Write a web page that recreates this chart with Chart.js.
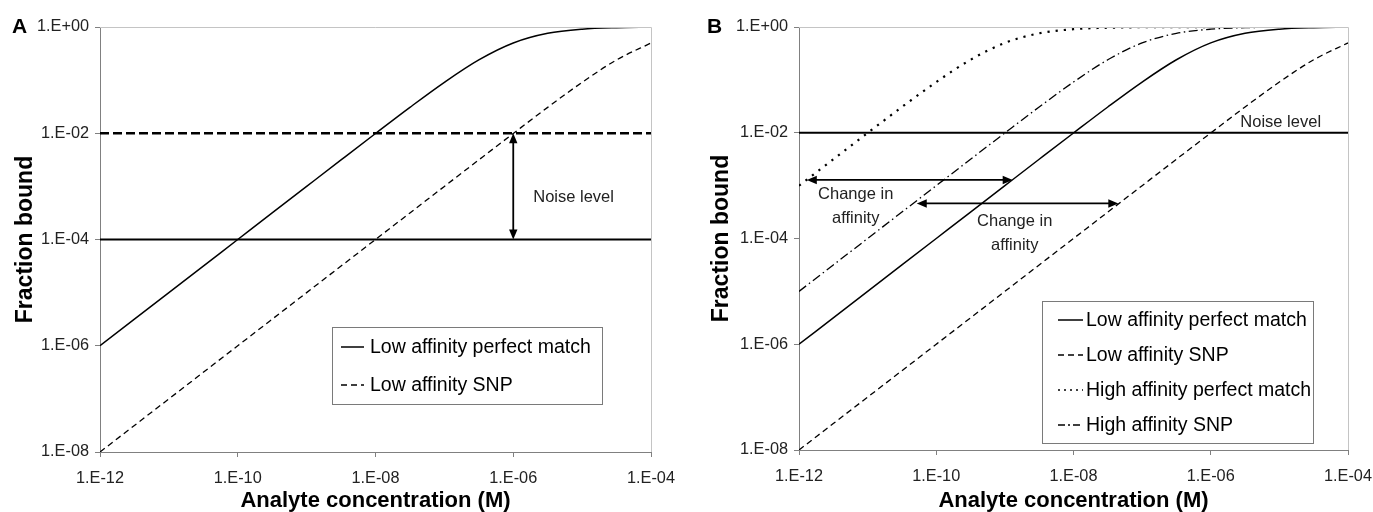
<!DOCTYPE html>
<html><head><meta charset="utf-8">
<script src="https://cdn.jsdelivr.net/npm/chart.js@4.4.1/dist/chart.umd.min.js"></script>
<style>
html,body{margin:0;padding:0;background:#fff;width:1373px;height:512px;overflow:hidden}
#wa{position:absolute;left:0;top:0;width:680px;height:512px}
#wb{position:absolute;left:690px;top:0;width:683px;height:512px}
</style></head><body>
<div id="wa"><canvas id="ca" width="680" height="512"></canvas></div>
<div id="wb"><canvas id="cb" width="683" height="512"></canvas></div>
<script>
// ---- data ----
const concentration = [1e-12, 3.16e-12, 1e-11, 3.16e-11, 1e-10, 3.16e-10, 1e-9, 3.16e-9, 1e-8, 3.16e-8, 1e-7, 3.16e-7, 1e-6, 3.16e-6, 1e-5, 3.16e-5, 1e-4];
const lowAffinityPerfectMatch = [1.0e-6, 3.16e-6, 1.0e-5, 3.16e-5, 1.0e-4, 3.16e-4, 9.99e-4, 3.15e-3, 9.9e-3, 0.0307, 0.0909, 0.240, 0.500, 0.760, 0.909, 0.969, 0.990];
const lowAffinitySNP = [1.0e-8, 3.16e-8, 1.0e-7, 3.16e-7, 1.0e-6, 3.16e-6, 1.0e-5, 3.16e-5, 1.0e-4, 3.16e-4, 9.99e-4, 3.15e-3, 9.9e-3, 0.0307, 0.0909, 0.240, 0.500];
const highAffinityPerfectMatch = [9.99e-4, 3.15e-3, 9.9e-3, 0.0307, 0.0909, 0.240, 0.500, 0.760, 0.909, 0.969, 0.990, 0.9968, 0.999, 0.9997, 0.9999, 0.99997, 0.99999];
const highAffinitySNP = [1.0e-5, 3.16e-5, 1.0e-4, 3.16e-4, 9.99e-4, 3.15e-3, 9.9e-3, 0.0307, 0.0909, 0.240, 0.500, 0.760, 0.909, 0.969, 0.990, 0.9968, 0.999];
const xRange = [1e-12, 1e-4];
const yRange = [1e-8, 1];
const xTickValues = [1e-12, 1e-10, 1e-8, 1e-6, 1e-4];
const xTickLabels = ['1.E-12', '1.E-10', '1.E-08', '1.E-06', '1.E-04'];
const yTickValues = [1e-8, 1e-6, 1e-4, 1e-2, 1];
const yTickLabels = ['1.E-08', '1.E-06', '1.E-04', '1.E-02', '1.E+00'];
const noiseLevelsA = [1e-2, 1e-4];
const noiseLevelB = 1e-2;
const arrowsA = [[1e-6, 1e-2, 1e-6, 1e-4]];
const arrowsB = [[1.3e-12, 1.28e-3, 1.3e-9, 1.28e-3], [5.2e-11, 4.6e-4, 4.5e-8, 4.6e-4]];
const notesA = [{lines: ['Noise level'], x: 1.95e-6, y: 6.3e-4, align: 'left'}];
const notesB = [
  {lines: ['Noise level'], x: 2.7e-6, y: 0.0157, align: 'left'},
  {lines: ['Change in', 'affinity'], x: 6.7e-12, y: 6.8e-4, align: 'center'},
  {lines: ['Change in', 'affinity'], x: 1.39e-9, y: 2.1e-4, align: 'center'}
];
const xTitle = 'Analyte concentration (M)';
const yTitle = 'Fraction bound';

// ---- helpers ----
const FONT = "'Liberation Sans', Arial, Helvetica, sans-serif";
Chart.defaults.font.family = FONT;
const pts = ys => concentration.map((x, i) => ({x: x, y: ys[i]}));
const hline = v => [{x: xRange[0], y: v}, {x: xRange[1], y: v}];

const STY = {
  lpm: {borderDash: [], borderWidth: 1.5},
  lsnp: {borderDash: [6, 4], borderWidth: 1.3},
  hpm: {borderDash: [2.2, 6], borderWidth: 2.2},
  hsnp: {borderDash: [9, 3.5, 1.5, 3.5], borderWidth: 1.3}
};
function curve(label, ys, st) {
  return Object.assign({label: label, data: pts(ys), showLine: true, pointRadius: 0,
    borderColor: '#000', backgroundColor: '#000', fill: false,
    cubicInterpolationMode: 'monotone'}, st);
}
function flat(v, dash, w) {
  return {label: '', data: hline(v), showLine: true, pointRadius: 0, borderColor: '#000',
    borderDash: dash, borderWidth: w, fill: false};
}

function arrowHead(ctx, x, y, ang) {
  const L = 10, W = 4.2;
  ctx.beginPath();
  ctx.moveTo(x, y);
  ctx.lineTo(x - L * Math.cos(ang) + W * Math.sin(ang), y - L * Math.sin(ang) - W * Math.cos(ang));
  ctx.lineTo(x - L * Math.cos(ang) - W * Math.sin(ang), y - L * Math.sin(ang) + W * Math.cos(ang));
  ctx.closePath();
  ctx.fill();
}

const deco = {
  id: 'deco',
  afterDatasetsDraw(chart, args, o) {
    const ctx = chart.ctx, a = chart.chartArea, xs = chart.scales.x, ys = chart.scales.y;
    ctx.save();
    // light top / right frame
    ctx.strokeStyle = '#c4c4c4'; ctx.lineWidth = 1;
    ctx.beginPath();
    ctx.moveTo(a.left, a.top + 0.5); ctx.lineTo(a.right + 0.5, a.top + 0.5); ctx.lineTo(a.right + 0.5, a.bottom);
    ctx.stroke();
    // arrows
    ctx.strokeStyle = '#000'; ctx.fillStyle = '#000'; ctx.lineWidth = 1.8;
    o.arrows.forEach(r => {
      const x1 = xs.getPixelForValue(r[0]), y1 = ys.getPixelForValue(r[1]);
      const x2 = xs.getPixelForValue(r[2]), y2 = ys.getPixelForValue(r[3]);
      const ang = Math.atan2(y2 - y1, x2 - x1);
      const sx = Math.cos(ang) * 8, sy = Math.sin(ang) * 8;
      ctx.beginPath(); ctx.moveTo(x1 + sx, y1 + sy); ctx.lineTo(x2 - sx, y2 - sy); ctx.stroke();
      arrowHead(ctx, x2, y2, ang);
      arrowHead(ctx, x1, y1, ang + Math.PI);
    });
    // notes
    ctx.font = '16.5px ' + FONT; ctx.fillStyle = '#222'; ctx.textBaseline = 'middle';
    o.notes.forEach(n => {
      const x = xs.getPixelForValue(n.x), y = ys.getPixelForValue(n.y);
      ctx.textAlign = n.align;
      n.lines.forEach((t, i) => ctx.fillText(t, x, y + i * 23.5));
    });
    // legend
    const L = o.legend;
    ctx.fillStyle = '#fff'; ctx.fillRect(L.box[0], L.box[1], L.box[2] - L.box[0], L.box[3] - L.box[1]);
    ctx.strokeStyle = '#7a7a7a'; ctx.lineWidth = 1;
    ctx.strokeRect(L.box[0] + 0.5, L.box[1] + 0.5, L.box[2] - L.box[0], L.box[3] - L.box[1]);
    ctx.font = '19.5px ' + FONT; ctx.textAlign = 'left'; ctx.textBaseline = 'middle';
    L.items.forEach((di, i) => {
      const ds = chart.data.datasets[di];
      const y = L.y0 + i * L.dy;
      ctx.strokeStyle = '#000'; ctx.lineWidth = Math.min(ds.borderWidth, 1.6);
      ctx.setLineDash(L.dashes[i]);
      ctx.beginPath(); ctx.moveTo(L.sx[0], y); ctx.lineTo(L.sx[1], y); ctx.stroke();
      ctx.setLineDash([]);
      ctx.fillStyle = '#000';
      ctx.fillText(ds.label, L.tx, y + 1);
    });
    // panel letter
    ctx.font = 'bold 21px ' + FONT; ctx.fillStyle = '#000'; ctx.textAlign = 'left'; ctx.textBaseline = 'alphabetic';
    ctx.fillText(o.letter[0], o.letter[1], o.letter[2]);
    ctx.restore();
  }
};

function makeChart(id, datasets, yW, xH, padR, decoOpts) {
  return new Chart(document.getElementById(id), {
    type: 'scatter',
    data: {datasets: datasets},
    options: {
      responsive: false, animation: false, devicePixelRatio: 1,
      layout: {padding: {top: 27, right: padR, left: 0, bottom: 0}},
      plugins: {legend: {display: false}, tooltip: {enabled: false}, deco: decoOpts},
      scales: {
        x: {
          type: 'logarithmic', min: xRange[0], max: xRange[1],
          afterBuildTicks: s => { s.ticks = xTickValues.map(v => ({value: v})); },
          afterFit: s => { s.height = xH; s.paddingLeft = 0; s.paddingRight = 0; },
          ticks: {callback: (v, i) => xTickLabels[i], color: '#222', font: {size: 16.3}, padding: 12, maxRotation: 0, autoSkip: false},
          grid: {display: true, drawOnChartArea: false, drawTicks: true, tickLength: 5, color: '#808080'},
          border: {display: true, color: '#808080', width: 1},
          title: {display: true, text: xTitle, color: '#000', font: {size: 22, weight: 'bold'}, padding: {top: 0, bottom: -2}}
        },
        y: {
          type: 'logarithmic', min: yRange[0], max: yRange[1],
          afterBuildTicks: s => { s.ticks = yTickValues.map(v => ({value: v})); },
          afterFit: s => { s.width = yW; s.paddingTop = 0; s.paddingBottom = 0; },
          ticks: {callback: (v, i) => yTickLabels[i], color: '#222', font: {size: 16.3}, padding: 6, autoSkip: false},
          grid: {display: true, drawOnChartArea: false, drawTicks: true, tickLength: 5, color: '#808080'},
          border: {display: true, color: '#808080', width: 1},
          title: {display: true, text: yTitle, color: '#000', font: {size: 23, weight: 'bold'}, padding: {top: decoOpts.ytPad, bottom: 0}}
        }
      }
    },
    plugins: [deco]
  });
}

makeChart('ca', [
  curve('Low affinity perfect match', lowAffinityPerfectMatch, STY.lpm),
  curve('Low affinity SNP', lowAffinitySNP, STY.lsnp),
  flat(noiseLevelsA[0], [9, 4], 2.6),
  flat(noiseLevelsA[1], [], 2)
], 100, 60, 29, {
  ytPad: 12,
  arrows: arrowsA, notes: notesA, letter: ['A', 12, 33],
  legend: {box: [332, 327, 602, 404], items: [0, 1], y0: 347, dy: 38, sx: [341, 364], tx: 370,
    dashes: [[], [6, 4]]}
});

makeChart('cb', [
  curve('Low affinity perfect match', lowAffinityPerfectMatch, STY.lpm),
  curve('Low affinity SNP', lowAffinitySNP, STY.lsnp),
  curve('High affinity perfect match', highAffinityPerfectMatch, STY.hpm),
  curve('High affinity SNP', highAffinitySNP, STY.hsnp),
  flat(noiseLevelB, [], 2)
], 109, 62, 25, {
  ytPad: 18,
  arrows: arrowsB, notes: notesB, letter: ['B', 17, 33],
  legend: {box: [352, 301, 623, 443], items: [0, 1, 2, 3], y0: 320, dy: 35, sx: [368, 393], tx: 396,
    dashes: [[], [6, 4], [2, 4], [7, 3, 2, 3]]}
});
</script>
</body></html>
